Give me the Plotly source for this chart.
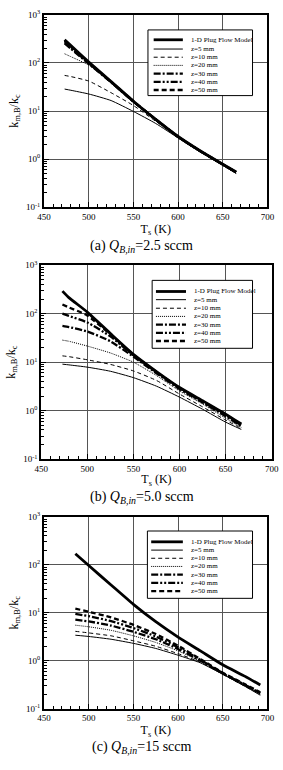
import plotly.graph_objects as go

W, H = 283, 770

# ---------------- data ----------------
names = ["1-D Plug Flow Model", "z=5 mm", "z=10 mm", "z=20 mm", "z=30 mm", "z=40 mm", "z=50 mm"]

T_a = [473, 480, 500, 525, 550, 575, 600, 625, 650, 665]
plug_a = [305, 230, 105, 41, 16, 6.7, 2.95, 1.47, 0.78, 0.54]
z5_a = [28.6, 27, 22.6, 16.5, 9.8, 5.5, 2.75, 1.40, 0.74, 0.50]
z10_a = [55, 52, 42, 24, 13, 6.1, 2.82, 1.42, 0.75, 0.51]
z20_a = [155, 135, 90, 39, 15.5, 6.5, 2.88, 1.44, 0.76, 0.52]
z30_a = [255, 198, 96, 39.5, 15.6, 6.6, 2.9, 1.45, 0.77, 0.53]
z40_a = [270, 208, 99, 40, 15.8, 6.65, 2.92, 1.46, 0.77, 0.53]
z50_a = [290, 220, 102, 40.5, 15.9, 6.7, 2.94, 1.47, 0.78, 0.535]

T_b = [473, 480, 500, 525, 550, 575, 600, 625, 650, 667]
plug_b = [292, 215, 108, 39, 14.5, 6.4, 3.0, 1.6, 0.85, 0.53]
z5_b = [9.1, 8.8, 7.9, 6.5, 4.8, 3.2, 1.9, 1.07, 0.58, 0.41]
z10_b = [13.5, 13, 11.2, 9.0, 6.6, 4.2, 2.2, 1.2, 0.64, 0.43]
z20_b = [28.5, 27, 21.5, 15.5, 10, 5.3, 2.55, 1.37, 0.70, 0.45]
z30_b = [56, 53, 43, 27, 13, 5.9, 2.8, 1.48, 0.77, 0.48]
z40_b = [100, 90, 66, 34, 13.8, 6.2, 2.9, 1.53, 0.80, 0.50]
z50_b = [155, 135, 92, 37.5, 14.2, 6.3, 2.95, 1.56, 0.83, 0.52]

T_c = [485, 500, 525, 550, 575, 600, 625, 650, 675, 692]
plug_c = [170, 97, 38, 15, 6.5, 3.1, 1.6, 0.82, 0.47, 0.31]
z5_c = [3.4, 3.2, 2.8, 2.3, 1.8, 1.3, 0.9, 0.52, 0.29, 0.19]
z10_c = [4.1, 3.8, 3.3, 2.6, 2.0, 1.4, 0.93, 0.52, 0.29, 0.20]
z20_c = [5.5, 5.1, 4.3, 3.3, 2.4, 1.6, 0.97, 0.53, 0.30, 0.20]
z30_c = [7.2, 6.6, 5.4, 4.0, 2.8, 1.75, 1.0, 0.54, 0.31, 0.21]
z40_c = [9.5, 8.5, 6.7, 4.8, 3.2, 1.9, 1.04, 0.55, 0.31, 0.21]
z50_c = [12.2, 10.5, 8.0, 5.6, 3.6, 2.05, 1.08, 0.56, 0.32, 0.22]

x_ticks = [450, 500, 550, 600, 650, 700]
y_ticks = [0.1, 1, 10, 100, 1000]
y_ticktext = ["10<sup>-1</sup>", "10<sup>0</sup>", "10<sup>1</sup>", "10<sup>2</sup>", "10<sup>3</sup>"]
captions = ["(a) <i>Q</i><sub><i>B,in</i></sub>=2.5 sccm",
            "(b) <i>Q</i><sub><i>B,in</i></sub>=5.0 sccm",
            "(c) <i>Q</i><sub><i>B,in</i></sub>=15 sccm"]

# ---------------- styles ----------------
widths = [2.8, 1.0, 1.0, 1.0, 2.3, 2.3, 2.3]
dashes = ["solid", "solid", "4px,3px", "1px,1px", "7px,2px,2px,2px",
          "7px,2px,2px,2px,2px,2px", "5px,3px"]
FONT = "Liberation Serif"


def px_x(x):
    return x / W


def px_y(y):
    return 1 - y / H


panels = [
    dict(T=T_a, ys=[plug_a, z5_a, z10_a, z20_a, z30_a, z40_a, z50_a],
         box=(39, 274, 8, 203.3), cap_y=243,
         leg=(148.3, 258.3, 23.3, 90.0, 154.3, 185.0, 191.7,
              [33.3, 42.7, 51.0, 59.3, 67.7, 76.0, 84.3])),
    dict(T=T_b, ys=[plug_b, z5_b, z10_b, z20_b, z30_b, z40_b, z50_b],
         box=(36, 278.5, 262.3, 459.3), cap_y=498,
         leg=(152.7, 258.3, 277.7, 346.7, 156.7, 188.3, 195.0,
              [289.0, 297.3, 306.0, 314.3, 322.7, 331.0, 339.3])),
    dict(T=T_c, ys=[plug_c, z5_c, z10_c, z20_c, z30_c, z40_c, z50_c],
         box=(39, 274, 518, 712.7), cap_y=752,
         leg=(147.7, 258.3, 532.3, 600.7, 151.7, 185.0, 191.7,
              [543.3, 551.7, 560.0, 568.3, 576.7, 585.0, 593.3])),
]

fig = go.Figure()
shapes = []
annotations = []
layout_axes = {}

for i, p in enumerate(panels, start=1):
    sfx = "" if i == 1 else str(i)
    xa, ya = "x" + sfx, "y" + sfx
    for k in range(len(names)):
        fig.add_trace(go.Scatter(
            x=p["T"], y=p["ys"][k], mode="lines", name=names[k],
            line=dict(color="black", width=widths[k], dash=dashes[k], shape="spline", smoothing=0.5),
            xaxis=xa, yaxis=ya, showlegend=False))
    x0, x1, y0, y1 = p["box"]
    layout_axes["xaxis" + sfx] = dict(
        domain=[px_x(x0), px_x(x1)], anchor=ya, range=[450, 700],
        tickvals=x_ticks, ticks="inside", ticklen=5, tickcolor="black",
        showline=True, linewidth=2, linecolor="black", mirror=True,
        showgrid=True, gridcolor="#555555", gridwidth=1, zeroline=False,
        minor=dict(ticks="inside", ticklen=3, dtick=10, tickcolor="black", showgrid=False),
        tickfont=dict(family=FONT, size=9, color="black"),
        title=dict(text="T<sub>s</sub> (K)", font=dict(family=FONT, size=12, color="black"), standoff=2))
    layout_axes["yaxis" + sfx] = dict(
        domain=[px_y(y1), px_y(y0)], anchor=xa, type="log", range=[-1, 3],
        tickvals=y_ticks, ticktext=y_ticktext, ticks="inside", ticklen=5, tickcolor="black",
        showline=True, linewidth=2, linecolor="black", mirror=True,
        showgrid=True, gridcolor="#555555", gridwidth=1, zeroline=False,
        minor=dict(ticks="inside", ticklen=3, dtick="D1", tickcolor="black", showgrid=False),
        tickfont=dict(family=FONT, size=9, color="black"),
        title=dict(text="k<sub>m,B</sub>/k<sub>c</sub>", font=dict(family=FONT, size=12, color="black"), standoff=5))

    # caption
    annotations.append(dict(text=captions[i - 1], x=px_x(142), y=px_y(p["cap_y"]),
                            xref="paper", yref="paper", showarrow=False,
                            xanchor="center", yanchor="middle",
                            font=dict(family=FONT, size=14, color="black")))
    # manual legend
    lx0, lx1, ly0, ly1, sx0, sx1, tx, rows = p["leg"]
    shapes.append(dict(type="rect", xref="paper", yref="paper",
                       x0=px_x(lx0), x1=px_x(lx1), y0=px_y(ly1), y1=px_y(ly0),
                       line=dict(color="black", width=1), fillcolor="white", layer="above"))
    for k, ry in enumerate(rows):
        shapes.append(dict(type="line", xref="paper", yref="paper",
                           x0=px_x(sx0), x1=px_x(sx1), y0=px_y(ry), y1=px_y(ry),
                           line=dict(color="black", width=widths[k], dash=dashes[k]), layer="above"))
        annotations.append(dict(text=names[k], x=px_x(tx), y=px_y(ry), xref="paper", yref="paper",
                                showarrow=False, xanchor="left", yanchor="middle",
                                font=dict(family=FONT, size=7, color="black")))

fig.update_layout(width=W, height=H, margin=dict(l=0, r=0, t=0, b=0),
                  paper_bgcolor="white", plot_bgcolor="white", showlegend=False,
                  shapes=shapes, annotations=annotations, **layout_axes)

fig.write_html("out.html")
